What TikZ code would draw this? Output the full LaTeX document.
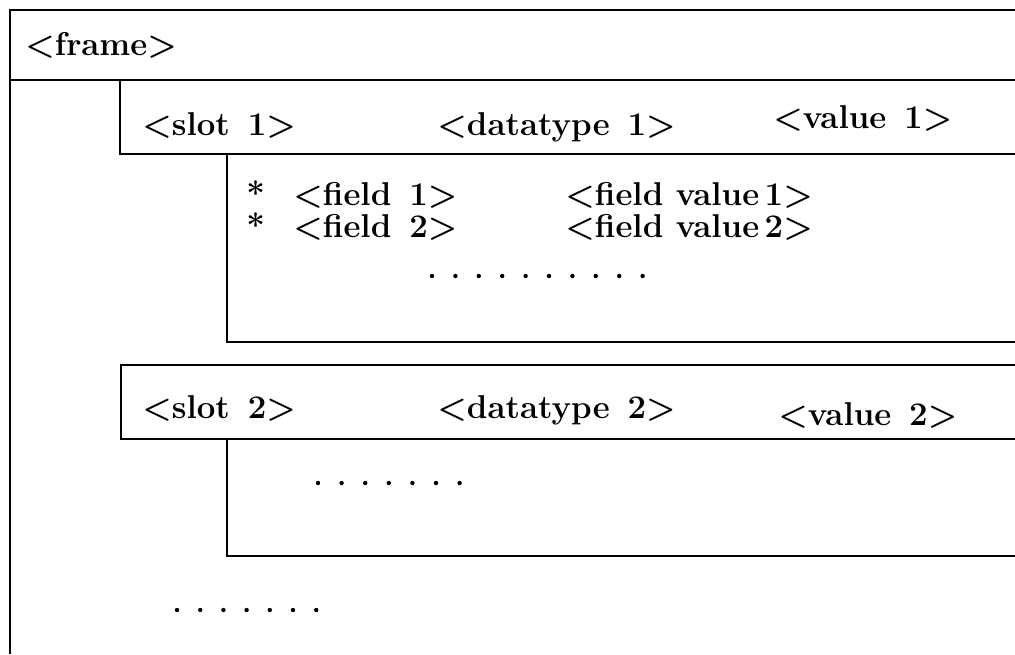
\documentclass[tikz,border=0pt]{standalone}
\usepackage{tikz}
\usetikzlibrary{calc}
\tikzstyle{box} = [draw, line width=1.25pt]
\tikzstyle{entry} = [font=\fontsize{16.5}{19}\selectfont\bfseries, anchor=base west, inner sep=0pt]
\tikzstyle{dotmark} = [fill=black]

\begin{document}
\begin{tikzpicture}[x=0.5pt, y=-0.5pt]

        \useasboundingbox (0,0) rectangle (1015,654);

        % frame header
        \draw[box] (1015,10) -- (10,10) -- (10,654);
        \draw[box] (10,80) -- (1015,80);
        \node[entry] (frame) at (25,55) {<frame>};

        % slot 1 and its fields
        \draw[box] (120,80) -- (120,154) -- (1015,154);
        \draw[box] (227,154) -- (227,342) -- (1015,342);
        \node[entry] (slot1) at (142,135) {<slot~\,1>};
        \node[entry] (type1) at (437,135) {<datatype~\,1>};
        \node[entry] (value1) at (773,128) {<value~\,1>};
        \node[entry] (fields1) at (246,205) {\fontsize{16.5}{13.5}\selectfont
                \begin{tabular}[t]{@{}p{23.5pt}@{}p{136pt}@{}l@{}}
                {*}& <field~\,1>& <field value\,1>\\
                {*}& <field~\,2>& <field value\,2>
                \end{tabular}};
        \foreach \i in {0,...,9}
                \fill[dotmark] (432+\i*23.4,276) circle (2.2);

        % slot 2
        \draw[box] (1015,365) -- (121,365) -- (121,439) -- (1015,439);
        \draw[box] (227,439) -- (227,556) -- (1015,556);
        \node[entry] (slot2) at (142,418) {<slot~\,2>};
        \node[entry] (type2) at (437,418) {<datatype~\,2>};
        \node[entry] (value2) at (778,425) {<value~\,2>};
        \foreach \i in {0,...,6}
                \fill[dotmark] (318+\i*23.6,483) circle (2.2);

        % more slots
        \foreach \i in {0,...,6}
                \fill[dotmark] (177+\i*23.2,610) circle (2.2);

\end{tikzpicture}
\end{document}
